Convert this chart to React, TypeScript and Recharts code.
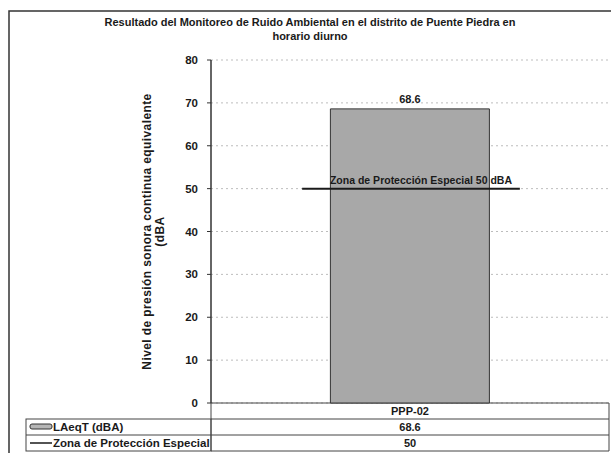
import React from 'react';
import { BarChart, Bar, XAxis, YAxis, CartesianGrid, ReferenceLine, LabelList, Customized } from 'recharts';

const categories = ['PPP-02'];
const laeqValues = [68.6];
const limitValues = [50];
const yTicks = [0, 10, 20, 30, 40, 50, 60, 70, 80];
const seriesNames = ['LAeqT (dBA)', 'Zona de Protección Especial'];
const titleLines = [
  'Resultado del Monitoreo de Ruido Ambiental en el distrito de Puente Piedra en',
  'horario diurno',
];
const yLabelLines = ['Nivel de presión sonora  continua equivalente', '(dBA'];
const refLabel = 'Zona de Protección Especial 50 dBA';

const data = categories.map((c, i) => ({ name: c, laeq: laeqValues[i], limit: limitValues[i] }));

const FONT = '"Liberation Sans", Arial, sans-serif';
const DARK = '#1a1a1a';

const W = 611;
const H = 453;
const PLOT_LEFT = 211;
const PLOT_RIGHT = 609;
const AXIS_Y = 403;
const ROW = 16;

function CategoryTick(props: any) {
  const { x, y, payload, index } = props;
  const i = index ?? 0;
  return (
    <g>
      <text x={x} y={y + 12} textAnchor="middle" fontSize={11} fontWeight="bold" fill={DARK}>
        {payload.value}
      </text>
      <text x={x} y={y + 12 + ROW} textAnchor="middle" fontSize={11} fontWeight="bold" fill={DARK}>
        {laeqValues[i]}
      </text>
      <text x={x} y={y + 12 + ROW * 2} textAnchor="middle" fontSize={11} fontWeight="bold" fill={DARK}>
        {limitValues[i]}
      </text>
    </g>
  );
}

function RefShape(props: any) {
  const { x1, y1, x2 } = props;
  const w = x2 - x1;
  const a = x1 + w * 0.229;
  const b = x1 + w * 0.776;
  return (
    <g>
      <line x1={a} y1={y1} x2={b} y2={y1} stroke={DARK} strokeWidth={2} />
      <text x={(a + b) / 2 + 10} y={y1 - 5} textAnchor="middle" fontSize={10.5} fontWeight="bold" fill={DARK}>
        {refLabel}
      </text>
    </g>
  );
}

function YLabel(props: any) {
  const { viewBox } = props;
  const cy = viewBox.y + viewBox.height / 2;
  return (
    <g>
      {yLabelLines.map((t, k) => (
        <text
          key={k}
          x={147 + k * 13}
          y={cy}
          transform={`rotate(-90, ${147 + k * 13}, ${cy})`}
          textAnchor="middle"
          dominantBaseline="central"
          fontSize={12}
          fontWeight="bold"
          letterSpacing={0.4}
          fill={DARK}
        >
          {t}
        </text>
      ))}
    </g>
  );
}

function Decorations() {
  const lx = 26;
  return (
    <g>
      <rect x={9} y={11} width={W + 20} height={H + 20} fill="none" stroke="#333" strokeWidth={1.5} />
      {titleLines.map((t, k) => (
        <text key={k} x={310} y={26 + k * 14} textAnchor="middle" fontSize={11} fontWeight="bold" fill={DARK}>
          {t}
        </text>
      ))}
      {[0, 1, 2, 3].map((r) => (
        <line key={r} x1={PLOT_LEFT} x2={PLOT_RIGHT} y1={AXIS_Y + r * ROW} y2={AXIS_Y + r * ROW} stroke="#444" strokeWidth={1} />
      ))}
      <line x1={PLOT_LEFT} x2={PLOT_LEFT} y1={AXIS_Y} y2={AXIS_Y + ROW * 3} stroke="#444" />
      <line x1={PLOT_RIGHT} x2={PLOT_RIGHT} y1={AXIS_Y} y2={AXIS_Y + ROW * 3} stroke="#444" />
      <rect x={lx} y={AXIS_Y + ROW} width={PLOT_LEFT - lx} height={ROW * 2} fill="none" stroke="#444" />
      <line x1={lx} x2={PLOT_LEFT} y1={AXIS_Y + ROW * 2} y2={AXIS_Y + ROW * 2} stroke="#444" />
      <rect x={lx + 4} y={AXIS_Y + ROW + 5} width={22} height={5} rx={2} fill="#b5b5b5" stroke="#333" strokeWidth={1} />
      <line x1={lx + 4} x2={lx + 26} y1={AXIS_Y + ROW * 2 + 8} y2={AXIS_Y + ROW * 2 + 8} stroke={DARK} strokeWidth={1.5} />
      {seriesNames.map((s, k) => (
        <text key={k} x={lx + 27} y={AXIS_Y + ROW * (k + 1) + 12} fontSize={11.5} fontWeight="bold" fill={DARK}>
          {s}
        </text>
      ))}
    </g>
  );
}

export default function App() {
  return (
    <div style={{ position: 'absolute', left: 0, top: 0, width: W, height: H, background: '#fff', fontFamily: FONT }}>
      <BarChart
        width={W}
        height={H}
        data={data}
        margin={{ top: 60, right: W - PLOT_RIGHT, bottom: 0, left: 0 }}
        barCategoryGap="30%"
      >
        <CartesianGrid vertical={false} stroke="#bdbdbd" strokeDasharray="2 3" />
        <XAxis
          dataKey="name"
          height={H - AXIS_Y}
          axisLine={false}
          tickLine={false}
          tickSize={0}
          tickMargin={0}
          tick={<CategoryTick />}
          interval={0}
        />
        <YAxis
          width={PLOT_LEFT}
          domain={[0, 80]}
          ticks={yTicks}
          tickSize={4}
          tickMargin={9}
          axisLine={{ stroke: '#333', strokeWidth: 1.5 }}
          tickLine={{ stroke: '#333' }}
          tick={{ fontSize: 11.5, fontWeight: 'bold', fill: DARK }}
          label={<YLabel />}
        />
        <Bar dataKey="laeq" fill="#a8a8a8" stroke="#333" strokeWidth={1} isAnimationActive={false}>
          <LabelList dataKey="laeq" position="top" offset={6} fontSize={11} fontWeight="bold" fill={DARK} />
        </Bar>
        <ReferenceLine y={limitValues[0]} shape={<RefShape />} />
        <Customized component={<Decorations />} />
      </BarChart>
    </div>
  );
}
